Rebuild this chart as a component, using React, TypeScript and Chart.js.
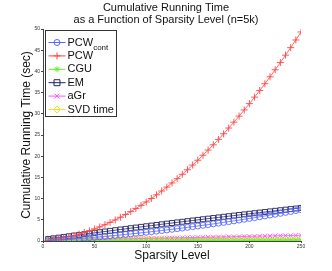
import React, { useEffect, useRef } from "react";
import { Chart, registerables } from "chart.js";

Chart.register(...registerables);

const sparsity = [5, 10, 15, 20, 25, 30, 35, 40, 45, 50, 55, 60, 65, 70, 75, 80, 85, 90, 95, 100, 105, 110, 115, 120, 125, 130, 135, 140, 145, 150, 155, 160, 165, 170, 175, 180, 185, 190, 195, 200, 205, 210, 215, 220, 225, 230, 235, 240, 245, 250];

const pcwCont = [0.07, 0.15, 0.23, 0.32, 0.4, 0.49, 0.58, 0.68, 0.78, 0.88, 0.98, 1.09, 1.2, 1.31, 1.43, 1.55, 1.67, 1.8, 1.93, 2.06, 2.19, 2.33, 2.47, 2.61, 2.76, 2.91, 3.06, 3.22, 3.38, 3.54, 3.7, 3.87, 4.04, 4.21, 4.39, 4.57, 4.75, 4.94, 5.13, 5.32, 5.51, 5.71, 5.91, 6.11, 6.32, 6.53, 6.74, 6.96, 7.18, 7.4];

const pcw = [0.13, 0.29, 0.49, 0.72, 0.99, 1.29, 1.63, 2.0, 2.41, 2.85, 3.33, 3.84, 4.39, 4.97, 5.59, 6.24, 6.93, 7.65, 8.41, 9.2, 10.03, 10.89, 11.79, 12.72, 13.69, 14.69, 15.73, 16.8, 17.91, 19.05, 20.23, 21.44, 22.69, 23.97, 25.29, 26.64, 28.03, 29.45, 30.91, 32.4, 33.93, 35.49, 37.09, 38.72, 40.39, 42.09, 43.83, 45.6, 47.41, 49.3];

const cgu = [0.02, 0.03, 0.03, 0.04, 0.04, 0.04, 0.05, 0.05, 0.06, 0.06, 0.06, 0.07, 0.07, 0.08, 0.08, 0.08, 0.09, 0.09, 0.1, 0.1, 0.1, 0.11, 0.11, 0.12, 0.12, 0.12, 0.13, 0.13, 0.14, 0.14, 0.14, 0.15, 0.15, 0.16, 0.16, 0.16, 0.17, 0.17, 0.18, 0.18, 0.18, 0.19, 0.19, 0.2, 0.2, 0.2, 0.21, 0.21, 0.22, 0.22];

const em = [0.46, 0.63, 0.79, 0.96, 1.12, 1.28, 1.44, 1.6, 1.76, 1.92, 2.08, 2.24, 2.39, 2.55, 2.71, 2.86, 3.02, 3.17, 3.33, 3.48, 3.63, 3.78, 3.94, 4.09, 4.24, 4.39, 4.54, 4.68, 4.83, 4.98, 5.13, 5.27, 5.42, 5.56, 5.71, 5.85, 5.99, 6.14, 6.28, 6.42, 6.56, 6.7, 6.84, 6.98, 7.12, 7.26, 7.39, 7.53, 7.66, 7.8];

const agr = [0.12, 0.15, 0.17, 0.2, 0.22, 0.25, 0.27, 0.3, 0.32, 0.35, 0.37, 0.4, 0.42, 0.45, 0.47, 0.5, 0.52, 0.55, 0.57, 0.6, 0.62, 0.65, 0.67, 0.7, 0.72, 0.75, 0.77, 0.8, 0.82, 0.85, 0.87, 0.9, 0.92, 0.95, 0.97, 1.0, 1.02, 1.05, 1.07, 1.1, 1.12, 1.15, 1.17, 1.2, 1.22, 1.25, 1.27, 1.3, 1.32, 1.35];

const svdTime = [0.45, 0.45, 0.45, 0.45, 0.45, 0.45, 0.45, 0.45, 0.45, 0.45, 0.45, 0.45, 0.45, 0.45, 0.45, 0.45, 0.45, 0.45, 0.45, 0.45, 0.45, 0.45, 0.45, 0.45, 0.45, 0.45, 0.45, 0.45, 0.45, 0.45, 0.45, 0.45, 0.45, 0.45, 0.45, 0.45, 0.45, 0.45, 0.45, 0.45, 0.45, 0.45, 0.45, 0.45, 0.45, 0.45, 0.45, 0.45, 0.45, 0.45];

const titleLines = ["Cumulative Running Time", "as a Function of Sparsity Level (n=5k)"];
const xTitle = "Sparsity Level";
const yTitle = "Cumulative Running Time (sec)";

const FONT = "'Liberation Sans', Arial, sans-serif";

type SeriesDef = { label: string; sub?: string; data: number[]; color: string; style: string; radius: number };

const series: SeriesDef[] = [
  { label: "PCW", sub: "cont", data: pcwCont, color: "#5566ff", style: "circle", radius: 3 },
  { label: "PCW", data: pcw, color: "#ff4444", style: "cross", radius: 3.5 },
  { label: "CGU", data: cgu, color: "#66ee33", style: "star", radius: 3 },
  { label: "EM", data: em, color: "#222266", style: "rect", radius: 3.5 },
  { label: "aGr", data: agr, color: "#ff55ff", style: "crossRot", radius: 3 },
  { label: "SVD time", data: svdTime, color: "#ffdd22", style: "rectRot", radius: 3.5 },
];

const overlayPlugin = {
  id: "overlay",
  afterDraw(chart: any) {
    const ctx = chart.ctx as CanvasRenderingContext2D;
    const area = chart.chartArea;
    ctx.save();
    // Title
    ctx.fillStyle = "#111";
    ctx.font = `11px ${FONT}`;
    ctx.textAlign = "center";
    ctx.textBaseline = "middle";
    const cx = 166;
    titleLines.forEach((t, i) => ctx.fillText(t, cx, 8 + i * 12));

    // Legend
    const lx = area.left + 2.5;
    const ly = area.top + 1.5;
    const lw = 71;
    const lh = 86;
    ctx.fillStyle = "#fff";
    ctx.fillRect(lx, ly, lw, lh);
    ctx.strokeStyle = "#333";
    ctx.lineWidth = 1;
    ctx.strokeRect(lx, ly, lw, lh);
    series.forEach((s, i) => {
      const y = ly + 12 + i * 13.4;
      ctx.strokeStyle = s.color;
      ctx.lineWidth = 1;
      ctx.beginPath();
      ctx.moveTo(lx + 3, y);
      ctx.lineTo(lx + 20, y);
      ctx.stroke();
      ctx.fillStyle = "transparent";
      ctx.lineWidth = 1;
      (Chart as any).helpers?.drawPoint;
      drawMarker(ctx, s.style, lx + 11.5, y, s.radius, s.color);
      ctx.fillStyle = "#111";
      ctx.font = `11px ${FONT}`;
      ctx.textAlign = "left";
      ctx.textBaseline = "middle";
      ctx.fillText(s.label, lx + 22, y);
      if (s.sub) {
        const w = ctx.measureText(s.label).width;
        ctx.font = `8px ${FONT}`;
        ctx.fillText(s.sub, lx + 22 + w, y + 5);
      }
    });
    ctx.restore();
  },
};

function drawMarker(ctx: CanvasRenderingContext2D, style: string, x: number, y: number, r: number, color: string) {
  ctx.save();
  ctx.strokeStyle = color;
  ctx.lineWidth = 1;
  ctx.beginPath();
  if (style === "circle") {
    ctx.arc(x, y, r, 0, Math.PI * 2);
  } else if (style === "cross") {
    ctx.moveTo(x - r, y); ctx.lineTo(x + r, y);
    ctx.moveTo(x, y - r); ctx.lineTo(x, y + r);
  } else if (style === "star") {
    ctx.moveTo(x - r, y); ctx.lineTo(x + r, y);
    ctx.moveTo(x, y - r); ctx.lineTo(x, y + r);
    const d = r * 0.707;
    ctx.moveTo(x - d, y - d); ctx.lineTo(x + d, y + d);
    ctx.moveTo(x - d, y + d); ctx.lineTo(x + d, y - d);
  } else if (style === "rect") {
    const d = r * 0.85;
    ctx.rect(x - d, y - d, 2 * d, 2 * d);
  } else if (style === "crossRot") {
    const d = r * 0.8;
    ctx.moveTo(x - d, y - d); ctx.lineTo(x + d, y + d);
    ctx.moveTo(x - d, y + d); ctx.lineTo(x + d, y - d);
  } else if (style === "rectRot") {
    ctx.moveTo(x, y - r); ctx.lineTo(x + r, y); ctx.lineTo(x, y + r); ctx.lineTo(x - r, y); ctx.closePath();
  }
  ctx.stroke();
  ctx.restore();
}

export default function App() {
  const ref = useRef<HTMLCanvasElement | null>(null);
  useEffect(() => {
    if (!ref.current) return;
    const chart = new Chart(ref.current, {
      type: "line",
      data: {
        datasets: series.map((s) => ({
          label: s.sub ? s.label + "_" + s.sub : s.label,
          data: sparsity.map((x, i) => ({ x, y: s.data[i] })),
          borderColor: s.color,
          borderWidth: 0.8,
          pointStyle: s.style as any,
          pointRadius: s.radius,
          pointBorderColor: s.color,
          pointBackgroundColor: "rgba(0,0,0,0)",
          pointBorderWidth: 0.9,
          fill: false,
          tension: 0,
        })),
      },
      options: {
        animation: false,
        responsive: false,
        layout: { padding: { top: 29, right: 31, left: 0, bottom: 0 } },
        plugins: { legend: { display: false }, tooltip: { enabled: false }, title: { display: false } },
        scales: {
          x: {
            type: "linear",
            min: 0,
            max: 250,
            grid: { drawOnChartArea: false, drawTicks: true, tickLength: 2, color: "#444" },
            border: { display: true, color: "#444", width: 1 },
            ticks: { stepSize: 50, font: { size: 5, family: FONT }, color: "#333", padding: 1, maxRotation: 0 },
            title: { display: true, text: xTitle, font: { size: 12, family: FONT }, color: "#111", padding: { top: 0, bottom: 8 } },
            afterFit: (scale: any) => { scale.height = 30; },
          },
          y: {
            type: "linear",
            min: 0,
            max: 50,
            grid: { drawOnChartArea: false, drawTicks: true, tickLength: 2, color: "#444" },
            border: { display: true, color: "#444", width: 1 },
            ticks: { stepSize: 5, font: { size: 5, family: FONT }, color: "#333", padding: 1 },
            title: { display: true, text: yTitle, font: { size: 12, family: FONT }, color: "#111", padding: { top: 19, bottom: 0 } },
            afterFit: (scale: any) => { scale.width = 43; },
          },
        },
      },
      plugins: [overlayPlugin],
    });
    return () => chart.destroy();
  }, []);
  return (
    <div style={{ position: "fixed", left: 0, top: 0, width: 332, height: 271, background: "#fff" }}>
      <canvas ref={ref} width={332} height={271} style={{ width: 332, height: 271 }} />
    </div>
  );
}
